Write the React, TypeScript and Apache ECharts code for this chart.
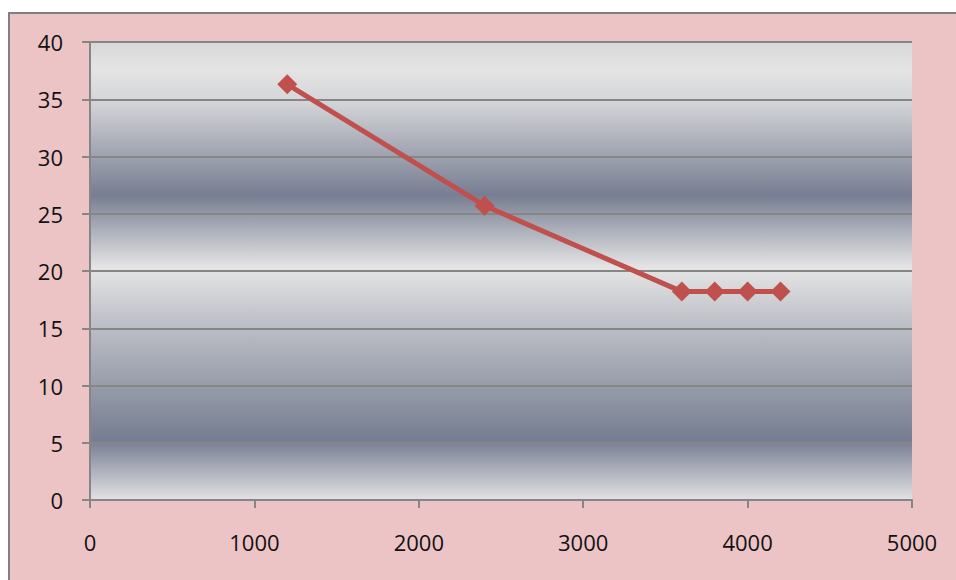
import React, { useEffect, useRef } from "react";
import * as echarts from "echarts";

const xValues = [1200, 2400, 3600, 3800, 4000, 4200];
const yValues = [36.3, 25.7, 18.2, 18.2, 18.2, 18.2];
const xTicks = { min: 0, max: 5000, interval: 1000 };
const yTicks = { min: 0, max: 40, interval: 5 };

export default function App() {
  const ref = useRef<HTMLDivElement>(null);
  useEffect(() => {
    if (!ref.current) return;
    const chart = echarts.init(ref.current, null, { renderer: "svg" });
    const points = xValues.map((x, i) => [x, yValues[i]]);
    const axisGray = "#868686";
    const font = "'Open Sans', 'Noto Sans', sans-serif";
    chart.setOption({
      animation: false,
      backgroundColor: "#ffffff",
      graphic: [
        {
          type: "rect",
          z: -10,
          silent: true,
          shape: { x: 9, y: 13, width: 980, height: 600 },
          style: { fill: "#ecc4c6", stroke: "#808080", lineWidth: 2 },
        },
      ],
      grid: {
        left: 90,
        right: 44,
        top: 42,
        bottom: 80,
        show: true,
        borderWidth: 0,
        backgroundColor: new echarts.graphic.LinearGradient(0, 0, 0, 1, [
          { offset: 0, color: "#d8d8d8" },
          { offset: 0.06, color: "#e4e4e4" },
          { offset: 0.13, color: "#d4d5d8" },
          { offset: 0.334, color: "#777e92" },
          { offset: 0.493, color: "#e5e5e5" },
          { offset: 0.6, color: "#c2c4ca" },
          { offset: 0.869, color: "#767d91" },
          { offset: 1, color: "#e2e2e5" },
        ]),
      },
      xAxis: {
        type: "value",
        min: xTicks.min,
        max: xTicks.max,
        interval: xTicks.interval,
        axisLine: { show: true, lineStyle: { color: axisGray, width: 2 } },
        axisTick: { show: true, length: 8, lineStyle: { color: axisGray, width: 2 } },
        splitLine: { show: false },
        axisLabel: {
          margin: 31,
          color: "#111111",
          fontSize: 22,
          fontFamily: font,
          formatter: (v: number) => String(v),
        },
      },
      yAxis: {
        type: "value",
        min: yTicks.min,
        max: yTicks.max,
        interval: yTicks.interval,
        axisLine: { show: true, lineStyle: { color: axisGray, width: 2 } },
        axisTick: { show: true, length: 8, lineStyle: { color: axisGray, width: 2 } },
        splitLine: { show: true, lineStyle: { color: axisGray, width: 2 } },
        axisLabel: {
          margin: 27,
          color: "#111111",
          fontSize: 22,
          fontFamily: font,
          formatter: (v: number) => String(v),
        },
      },
      series: [
        {
          type: "line",
          data: points,
          symbol: "diamond",
          symbolSize: 20,
          itemStyle: { color: "#c0504d" },
          lineStyle: { color: "#c0504d", width: 5 },
        },
      ],
    });
    return () => chart.dispose();
  }, []);
  return (
    <div
      ref={ref}
      style={{ position: "absolute", left: 0, top: 0, width: 956, height: 580 }}
    />
  );
}
